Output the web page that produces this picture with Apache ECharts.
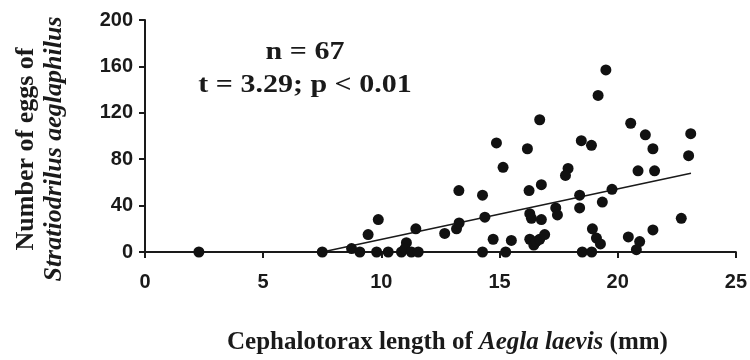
<!DOCTYPE html>
<html>
<head>
<meta charset="utf-8">
<script src="https://cdn.jsdelivr.net/npm/echarts@6/dist/echarts.min.js"></script>
<style>
  html, body { margin: 0; padding: 0; background: #fff; }
  #chart { width: 750px; height: 360px; }
</style>
</head>
<body>
<div id="chart"></div>
<script>
// cephalotorax length (mm) and egg counts
const lengths = [
  2.28, 7.5, 8.74, 9.09, 9.44, 9.87, 9.8, 10.29, 10.85, 11.06,
  11.0, 11.27, 11.56, 11.46, 12.68, 13.18, 13.29, 13.28, 14.28, 14.38,
  14.28, 14.73, 15.26, 15.5, 14.87, 15.15, 16.18, 16.25, 16.77, 16.28,
  16.35, 16.77, 16.28, 16.45, 16.55, 16.7, 16.91, 16.7, 17.38, 17.45,
  17.9, 17.79, 18.46, 18.89, 19.5, 19.17, 18.39, 19.76, 18.39, 19.35,
  18.93, 19.1, 19.27, 18.5, 18.9, 20.55, 21.17, 21.49, 20.86, 21.56,
  20.45, 20.93, 20.79, 21.49, 22.69, 23.09, 23.0
];
const eggs = [
  0, 0, 3, 0, 15, 28, 0, 0, 0, 8,
  3, 0, 0, 20, 16, 20, 25, 53, 0, 30,
  49, 11, 0, 10, 94, 73, 89, 53, 58, 33,
  29, 28, 11, 6, 9, 11, 15, 114, 38, 32,
  72, 66, 96, 92, 157, 135, 49, 54, 38, 43,
  20, 12, 7, 0, 0, 111, 101, 89, 70, 70,
  13, 9, 2, 19, 29, 102, 83
];

// fitted line as drawn in the figure
const trendSlope = 4.35;
const trendIntercept = -32.6;
const trendRange = [7.5, 23.1];

const xTicks = [0, 5, 10, 15, 20, 25];
const yTicks = [0, 40, 80, 120, 160, 200];

const statLines = ['n = 67', 't = 3.29; p < 0.01'];

const points = lengths.map((x, i) => [x, eggs[i]]);
const trend = trendRange.map(x => [x, trendSlope * x + trendIntercept]);

const chart = echarts.init(document.getElementById('chart'));

const serif = '"Liberation Serif", "Times New Roman", serif';
const tickFont = {
  fontFamily: '"Liberation Sans", Arial, sans-serif',
  fontWeight: 'bold',
  fontSize: 20,
  color: '#1a1a1a'
};

chart.setOption({
  animation: false,
  grid: { left: 145, right: 14, top: 20, bottom: 106 },
  xAxis: {
    type: 'value',
    min: xTicks[0],
    max: xTicks[xTicks.length - 1],
    interval: 5,
    name: '{b|Cephalotorax length of }{i|Aegla laevis}{b| (mm)}',
    nameLocation: 'middle',
    nameGap: 78,
    nameTextStyle: {
      padding: [0, 0, 0, 14],
      rich: {
        b: { fontFamily: serif, fontWeight: 'bold', fontSize: 25, color: '#1a1a1a' },
        i: { fontFamily: serif, fontWeight: 'bold', fontStyle: 'italic', fontSize: 25, color: '#1a1a1a' }
      }
    },
    axisLine: { show: true, onZero: false, lineStyle: { color: '#1a1a1a', width: 2 } },
    axisTick: { show: true, inside: false, length: 6, lineStyle: { color: '#1a1a1a', width: 2 } },
    axisLabel: Object.assign({ margin: 20 }, tickFont),
    splitLine: { show: false }
  },
  yAxis: {
    type: 'value',
    min: yTicks[0],
    max: yTicks[yTicks.length - 1],
    interval: 40,
    name: '{a|Number of eggs of}\n{b|Stratiodrilus aeglaphilus}',
    nameLocation: 'middle',
    nameRotate: 90,
    nameGap: 77,
    nameTextStyle: {
      padding: [0, 26, 0, 0],
      rich: {
        a: { fontFamily: serif, fontWeight: 'bold', fontSize: 26, color: '#1a1a1a', lineHeight: 28 },
        b: { fontFamily: serif, fontWeight: 'bold', fontStyle: 'italic', fontSize: 26, color: '#1a1a1a', lineHeight: 28 }
      }
    },
    axisLine: { show: true, lineStyle: { color: '#1a1a1a', width: 2 } },
    axisTick: { show: true, inside: false, length: 6, lineStyle: { color: '#1a1a1a', width: 2 } },
    axisLabel: Object.assign({ margin: 12 }, tickFont),
    splitLine: { show: false }
  },
  graphic: statLines.map((txt, i) => ({
    type: 'text',
    x: 305,
    y: 53 + i * 33,
    scaleX: 1.2,
    style: {
      text: txt,
      font: 'bold 25px ' + serif,
      fill: '#1a1a1a',
      align: 'center',
      verticalAlign: 'middle'
    }
  })),
  series: [
    {
      type: 'line',
      data: trend,
      symbol: 'none',
      lineStyle: { color: '#1a1a1a', width: 1.6 },
      z: 1
    },
    {
      type: 'scatter',
      data: points,
      symbol: 'circle',
      symbolSize: 11,
      itemStyle: { color: '#111', opacity: 1 },
      z: 2
    }
  ]
});
</script>
</body>
</html>
